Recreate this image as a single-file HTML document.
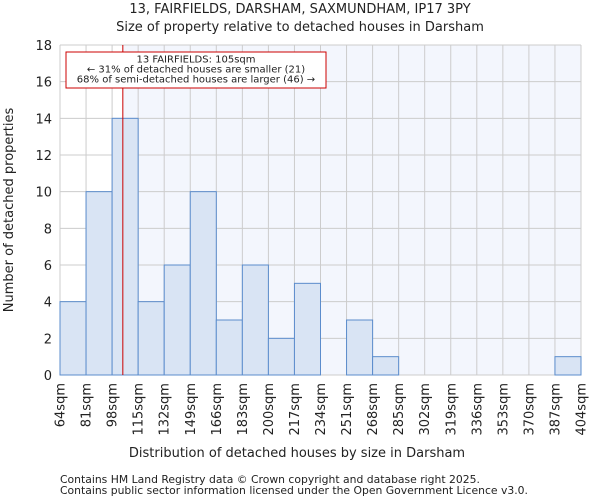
<!DOCTYPE html>
<html><head><meta charset="utf-8"><style>
body{margin:0;background:#fff;font-family:"DejaVu Sans","Liberation Sans",sans-serif}
svg text{font-family:"DejaVu Sans","Liberation Sans",sans-serif;fill:#222}
</style></head><body>
<svg id="c" width="600" height="500">
<text x="300" y="13" font-size="13" text-anchor="middle">13, FAIRFIELDS, DARSHAM, SAXMUNDHAM, IP17 3PY</text>
<text x="300" y="31" font-size="13" text-anchor="middle">Size of property relative to detached houses in Darsham</text>
<g id="plot"></g>
<text x="297" y="457" font-size="13" text-anchor="middle">Distribution of detached houses by size in Darsham</text>
<text x="13" y="210" font-size="13" text-anchor="middle" transform="rotate(-90 13 210)">Number of detached properties</text>
<text x="60" y="483" font-size="10.8">Contains HM Land Registry data © Crown copyright and database right 2025.</text>
<text x="60" y="494" font-size="10.8">Contains public sector information licensed under the Open Government Licence v3.0.</text>
</svg>
<script>
const categories=["64sqm","81sqm","98sqm","115sqm","132sqm","149sqm","166sqm","183sqm","200sqm","217sqm","234sqm","251sqm","268sqm","285sqm","302sqm","319sqm","336sqm","353sqm","370sqm","387sqm","404sqm"];
const binEdges=[64,81,98,115,132,149,166,183,200,217,234,251,268,285,302,319,336,353,370,387,404];
const counts=[4,10,14,4,6,10,3,6,2,5,0,3,1,0,0,0,0,0,0,1];
const yTicks=[0,2,4,6,8,10,12,14,16,18];
const propertySize=105;
const L=60,R=581,T=45,B=375,yMax=18;
const NS="http://www.w3.org/2000/svg";
const g=document.getElementById('plot');
const x=v=>L+(v-binEdges[0])/(binEdges[binEdges.length-1]-binEdges[0])*(R-L);
const y=v=>B-v/yMax*(B-T);
function mk(t,a){const e=document.createElementNS(NS,t);for(const k in a)e.setAttribute(k,a[k]);g.appendChild(e);return e;}
const px=x(propertySize);
let e=mk('rect',{x:L,y:T,width:R-L,height:B-T,fill:'#fff'});


e=mk('rect',{x:px,y:T,width:R-px,height:B-T,fill:'#f3f6fd'});


yTicks.forEach(t=>{
 e=mk('line',{x1:L,x2:R,y1:y(t),y2:y(t),stroke:'#ccc'});
 
 
 e=mk('text',{x:L-8,y:y(t)+5,'font-size':13,'text-anchor':'end'});e.textContent=t;
 
 
});
binEdges.forEach((b,i)=>{
 e=mk('line',{x1:x(b),x2:x(b),y1:T,y2:B,stroke:'#ccc'});
 
 
 const xx=x(b)+4.5;
 e=mk('text',{x:xx,y:B+8,'font-size':13,'text-anchor':'end',transform:`rotate(-90 ${xx} ${B+8})`});e.textContent=categories[i];
 
 
});
counts.forEach((c,i)=>{
 if(!c)return;
 e=mk('rect',{x:x(binEdges[i]),y:y(c),width:x(binEdges[i+1])-x(binEdges[i]),height:B-y(c),fill:'#d9e4f4',stroke:'#5b8ccc','stroke-width':1});
 
 
});
e=mk('line',{x1:px,x2:px,y1:T,y2:B,stroke:'#cc0000','stroke-width':1});


e=mk('rect',{x:66,y:52,width:260,height:36,fill:'#fff',stroke:'#cc0000'});


["13 FAIRFIELDS: 105sqm","← 31% of detached houses are smaller (21)","68% of semi-detached houses are larger (46) →"].forEach((s,i)=>{
 e=mk('text',{x:196,y:62.5+i*10,'font-size':10,'text-anchor':'middle'});e.textContent=s;
 
 
});
</script>
</body></html>
